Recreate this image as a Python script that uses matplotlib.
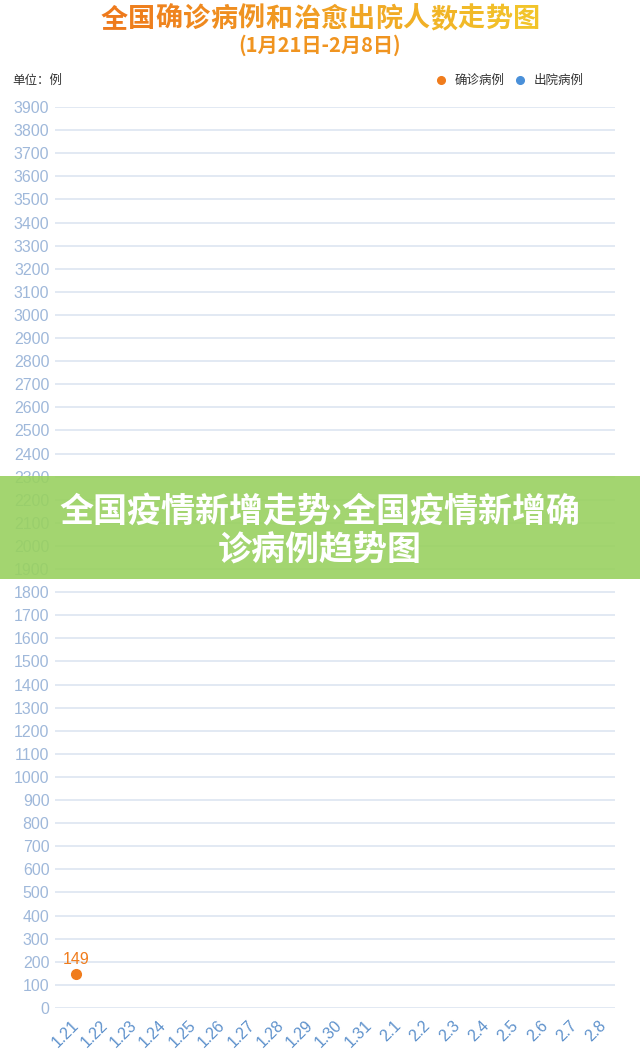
import matplotlib
matplotlib.use('Agg')
import matplotlib.pyplot as plt
from matplotlib.patches import Rectangle
from matplotlib.lines import Line2D
import matplotlib.colors as mcolors
import numpy as np

# ---- data ----
categories = ['1.21', '1.22', '1.23', '1.24', '1.25', '1.26', '1.27', '1.28', '1.29', '1.30',
              '1.31', '2.1', '2.2', '2.3', '2.4', '2.5', '2.6', '2.7', '2.8']
confirmed = [149, None, None, None, None, None, None, None, None, None,
             None, None, None, None, None, None, None, None, None]
discharged = [None] * 19
y_ticks = list(range(0, 4000, 100))

title_text = '全国确诊病例和治愈出院人数走势图'
subtitle_text = '(1月21日-2月8日)'
unit_text = '单位：例'
legend_labels = ['确诊病例', '出院病例']
banner_lines = ['全国疫情新增走势›全国疫情新增确', '诊病例趋势图']

plt.rcParams['font.family'] = ['Noto Sans CJK SC', 'DejaVu Sans']

W, H = 640, 1056
fig = plt.figure(figsize=(W / 100, H / 100), dpi=100)
fig.patch.set_facecolor('white')


def fx(px):
    return px / W


def fy(py):
    return 1 - py / H


orange = '#f07c1c'
blue = '#4a90d9'
num_font = ['Liberation Sans', 'DejaVu Sans']

ax = fig.add_axes([fx(55), fy(1008), fx(560), 901 / H])
ax.set_xlim(-0.716, 18.376)
ax.set_ylim(0, 3900)
for s in ax.spines.values():
    s.set_visible(False)
ax.set_yticks(y_ticks)
ax.set_yticklabels([str(v) for v in y_ticks], family=num_font, fontsize=11.5, color='#9fb8da')
ax.yaxis.grid(True, color='#dfe7f2', lw=1.3)
ax.set_axisbelow(True)
ax.tick_params(axis='y', length=0, pad=4)
ax.set_xticks(range(len(categories)))
ax.set_xticklabels(categories, rotation=45, ha='right', va='center', rotation_mode='anchor',
                   family=num_font, fontsize=11.5, color='#5f92cc')
ax.tick_params(axis='x', length=0, pad=11)

xs = [i for i, v in enumerate(confirmed) if v is not None]
ys = [v for v in confirmed if v is not None]
ax.plot(xs, ys, 'o', color=orange, ms=7, zorder=5, clip_on=False)
for x, y in zip(xs, ys):
    ax.annotate(str(y), (x, y), xytext=(0, 5), textcoords='offset points', ha='center', va='bottom',
                color=orange, fontsize=11.5, family=num_font)
xd = [i for i, v in enumerate(discharged) if v is not None]
yd = [v for v in discharged if v is not None]
if xd:
    ax.plot(xd, yd, 'o', color=blue, ms=7, zorder=5)

# ---- title with gradient ----
c0 = np.array(mcolors.to_rgb('#ee7a1c'))
c1 = np.array(mcolors.to_rgb('#f2c42a'))
n = len(title_text)
cw = 27.5
x0 = 320 - cw * n / 2
for i, ch in enumerate(title_text):
    t = i / (n - 1)
    col = c0 * (1 - t) + c1 * t
    fig.text(fx(x0 + cw * (i + 0.5)), fy(19), ch, ha='center', va='center', fontsize=19.5,
             fontweight='black', color=col)
fig.text(fx(320), fy(45), subtitle_text, ha='center', va='center', fontsize=14.5,
         fontweight='black', color='#f09420')

fig.text(fx(12), fy(80), unit_text, ha='left', va='center', fontsize=9, color='#333333')
fig.add_artist(Line2D([fx(441)], [fy(80)], marker='o', ms=5.5, color=orange, ls='none',
                      transform=fig.transFigure))
fig.text(fx(455), fy(80), legend_labels[0], ha='left', va='center', fontsize=9, color='#333333')
fig.add_artist(Line2D([fx(520)], [fy(80)], marker='o', ms=5.5, color=blue, ls='none',
                      transform=fig.transFigure))
fig.text(fx(534), fy(80), legend_labels[1], ha='left', va='center', fontsize=9, color='#333333')

# ---- banner ----
fig.add_artist(Rectangle((0, fy(579)), 1, 103 / H, transform=fig.transFigure,
                         facecolor='#99d160', alpha=0.9, edgecolor='none', zorder=10))
fig.text(fx(320), fy(511), banner_lines[0], ha='center', va='center', fontsize=24.5,
         fontweight='black', color='white', zorder=11)
fig.text(fx(320), fy(549), banner_lines[1], ha='center', va='center', fontsize=24.5,
         fontweight='black', color='white', zorder=11)

fig.savefig('out.png', dpi=100, facecolor='white')
